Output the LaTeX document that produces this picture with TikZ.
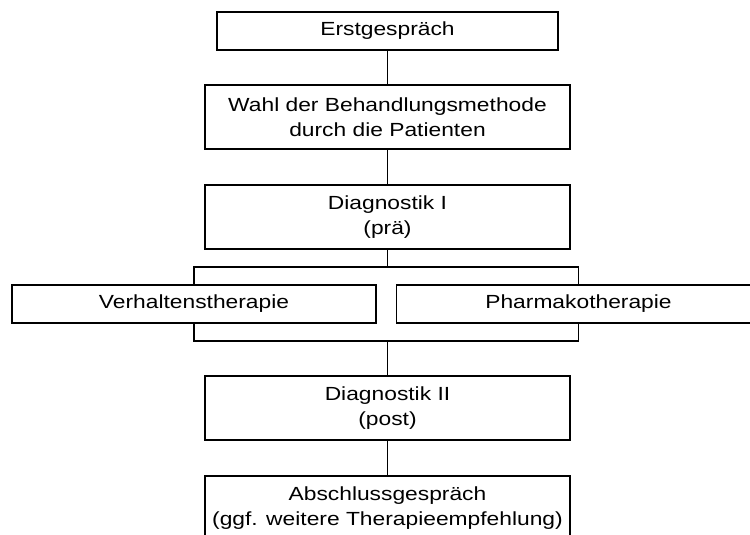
\documentclass[tikz,border=0pt]{standalone}
\usepackage{fontspec}
\setmainfont{Liberation Sans}[FakeStretch=1.2]
\begin{document}
\begin{tikzpicture}[x=1pt,y=-1pt,
  box/.style={draw=black, line width=1.5pt, align=center, inner sep=0pt,
    font=\fontsize{19}{25}\selectfont},
  conn/.style={draw=black, line width=1.4pt}]
\useasboundingbox (0,0) rectangle (750,535);
\clip (0,0) rectangle (750,535);
\node[box, minimum width=341pt, minimum height=38pt] (e) at (387.5,31) {Erstgespräch};
\node[box, minimum width=365pt, minimum height=64pt] (w) at (387.5,117) {Wahl der Behandlungsmethode\\durch die Patienten};
\node[box, minimum width=365pt, minimum height=64pt] (d1) at (387.5,217) {Diagnostik I\\(prä)};
\node[box, minimum width=364pt, minimum height=38pt] (v) at (194,304) {Verhaltenstherapie};
\node[box, minimum width=364pt, minimum height=38pt] (p) at (578.5,304) {Pharmakotherapie};
\node[box, minimum width=365pt, minimum height=64pt] (d2) at (387.5,408) {Diagnostik II\\(post)};
\node[box, minimum width=365pt, minimum height=64pt] (a) at (387.5,508) {Abschlussgespräch\\(ggf. weitere Therapieempfehlung)};
\coordinate (s1) at (387.5,267);
\coordinate (s2) at (387.5,341);
\draw[conn] (e.south) -- (w.north);
\draw[conn] (w.south) -- (d1.north);
\draw[conn] (d1.south) -- (s1);
\draw[conn] (v.north) |- (s1) -| (p.north);
\draw[conn] (v.south) |- (s2) -| (p.south);
\draw[conn] (s2) -- (d2.north);
\draw[conn] (d2.south) -- (a.north);
\end{tikzpicture}
\end{document}
